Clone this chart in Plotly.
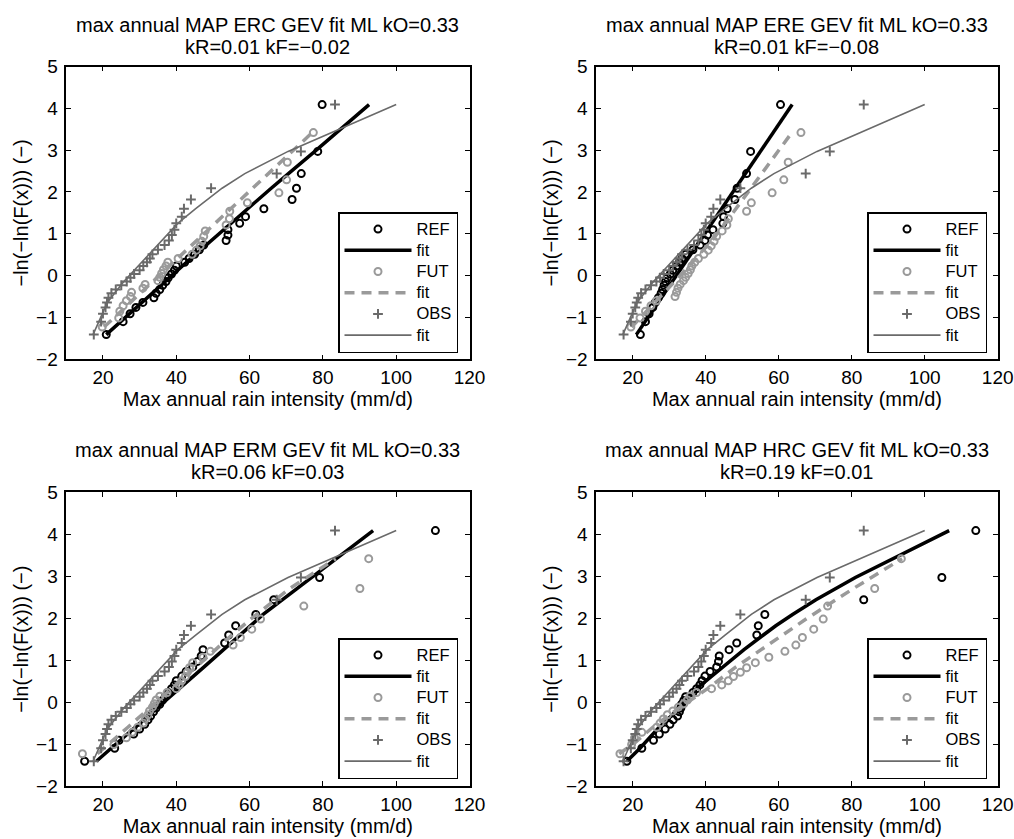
import plotly.graph_objects as go

# ---- plotting positions (reduced Gumbel variate) ----
HAZEN_Y = [-1.41, -1.10, -0.91, -0.76, -0.64, -0.53, -0.42, -0.33, -0.23, -0.14,
           -0.05, 0.04, 0.13, 0.23, 0.32, 0.41, 0.51, 0.62, 0.73, 0.84,
           0.97, 1.10, 1.25, 1.41, 1.60, 1.82, 2.09, 2.44, 2.97, 4.09]
WEIBULL_Y = [-1.23, -1.01, -0.85, -0.72, -0.60, -0.50, -0.40, -0.30, -0.21, -0.12,
             -0.04, 0.05, 0.14, 0.23, 0.32, 0.41, 0.51, 0.61, 0.71, 0.82,
             0.94, 1.07, 1.21, 1.36, 1.54, 1.74, 1.98, 2.29, 2.71, 3.42]
FIT_Y_HAZEN = [-1.41, -1.10, -0.64, -0.14, 0.32, 0.84, 1.25, 1.60, 1.82, 2.09, 2.44, 2.97, 4.09]
FIT_Y_WEIBULL = [-1.23, -1.01, -0.60, -0.12, 0.32, 0.82, 1.21, 1.54, 1.74, 1.98, 2.29, 2.71, 3.42]

# ---- observations (same in all panels) ----
obs_x = [17.5, 19.5, 20.0, 20.7, 21.1, 21.5, 22.3, 23.5, 25.0, 26.5,
         27.5, 28.5, 30.0, 31.0, 32.0, 32.8, 33.5, 35.0, 36.8, 38.0,
         38.8, 39.5, 40.0, 41.5, 42.1, 44.0, 49.5, 67.4, 74.0, 83.3]
obs_fit_x = [17.3, 18.9, 21.2, 25.7, 30.5, 35.9, 40.4, 45.3, 48.4, 52.5, 58.7, 70.5, 100.0]

# ---- ERC ----
erc_ref_x = [20.9, 25.5, 27.4, 29.0, 30.9, 33.9, 34.5, 35.5, 36.3, 37.2,
             37.8, 38.7, 39.5, 40.0, 42.3, 43.5, 45.0, 46.3, 47.5, 53.6,
             54.1, 54.1, 57.3, 58.9, 63.9, 71.6, 72.8, 74.1, 78.6, 79.8]
erc_fut_x = [19.8, 24.3, 24.6, 25.5, 26.4, 27.5, 27.8, 30.9, 31.5, 35.0,
             35.5, 36.0, 36.5, 37.2, 37.7, 40.5, 44.3, 45.5, 46.5, 47.0,
             47.5, 47.9, 53.6, 54.5, 54.6, 59.4, 68.0, 70.1, 70.3, 77.4]
erc_ref_fit_x = [20.9, 24.9, 30.9, 37.0, 42.8, 49.5, 54.8, 59.4, 62.3, 65.9, 70.6, 77.8, 92.6]
erc_fut_fit_x = [20.3, 23.0, 28.0, 33.9, 39.2, 45.3, 50.1, 54.1, 56.5, 59.5, 63.2, 68.4, 77.1]

# ---- ERE ----
ere_ref_x = [22.1, 23.5, 24.5, 25.5, 26.2, 27.0, 27.8, 28.2, 28.6, 29.0,
             29.5, 30.3, 31.0, 32.0, 32.8, 33.5, 34.5, 36.5, 38.5, 39.8,
             40.5, 42.0, 44.7, 44.9, 45.9, 48.0, 48.6, 51.2, 52.3, 60.5]
ere_fut_x = [19.5, 22.0, 23.5, 25.0, 26.5, 31.6, 32.0, 32.4, 33.0, 33.9,
             34.5, 35.2, 35.8, 36.2, 37.0, 38.0, 39.5, 40.7, 41.5, 42.3,
             43.0, 44.5, 45.8, 46.2, 51.2, 52.5, 58.2, 61.4, 62.6, 66.1]
ere_ref_fit_x = [21.0, 23.4, 27.0, 30.9, 34.4, 38.5, 41.6, 44.4, 46.1, 48.2, 50.9, 55.0, 63.7]
ere_fut_fit_x = [19.7, 22.0, 26.5, 31.7, 36.4, 41.5, 45.0, 47.8, 49.5, 51.6, 54.3, 57.8, 63.6]

# ---- ERM ----
erm_ref_x = [15.0, 23.2, 24.4, 28.4, 30.0, 31.4, 32.3, 33.0, 33.8, 34.5,
             35.5, 36.2, 37.0, 37.8, 38.7, 39.5, 40.0, 41.5, 42.7, 44.5,
             45.8, 46.8, 47.3, 53.2, 54.3, 56.2, 61.7, 66.6, 79.1, 110.7]
erm_fut_x = [14.4, 23.0, 26.4, 28.0, 29.5, 31.0, 31.6, 32.3, 32.7, 33.5,
             34.0, 34.5, 35.5, 37.5, 40.0, 40.8, 41.5, 42.5, 43.0, 43.6,
             44.5, 47.3, 49.3, 55.5, 57.5, 60.6, 63.0, 74.8, 90.1, 92.5]
erm_ref_fit_x = [18.2, 22.2, 28.2, 34.8, 40.8, 47.6, 52.9, 57.5, 60.0, 63.7, 68.9, 76.9, 93.7]
erm_fut_fit_x = [18.5, 21.5, 26.8, 33.0, 38.8, 45.2, 50.2, 54.4, 57.0, 60.3, 64.8, 71.0, 83.5]

# ---- HRC ----
hrc_ref_x = [18.4, 22.5, 25.7, 27.3, 28.9, 30.2, 31.1, 32.3, 32.8, 33.2,
             33.4, 34.0, 34.5, 36.5, 37.5, 38.4, 39.0, 39.8, 41.2, 43.0,
             43.5, 43.7, 46.4, 48.5, 54.0, 54.4, 56.2, 83.3, 104.7, 114.0]
hrc_fut_x = [16.5, 19.7, 20.5, 22.5, 26.6, 27.5, 28.4, 29.5, 31.0, 32.5,
             34.0, 35.0, 35.7, 37.5, 41.6, 44.4, 46.2, 47.6, 49.5, 51.2,
             53.6, 57.3, 61.7, 64.7, 66.5, 69.6, 72.2, 73.4, 86.3, 93.6]
hrc_ref_fit_x = [18.4, 22.0, 26.8, 32.8, 37.5, 44.8, 50.5, 55.8, 59.2, 63.8, 70.2, 81.0, 106.7]
hrc_fut_fit_x = [16.3, 20.0, 25.5, 33.0, 40.5, 48.0, 54.5, 60.0, 63.5, 67.5, 73.0, 80.5, 93.8]

titles = [("max annual MAP ERC GEV fit ML kO=0.33", "kR=0.01 kF=\u22120.02"),
          ("max annual MAP ERE GEV fit ML kO=0.33", "kR=0.01 kF=\u22120.08"),
          ("max annual MAP ERM GEV fit ML kO=0.33", "kR=0.06 kF=0.03"),
          ("max annual MAP HRC GEV fit ML kO=0.33", "kR=0.19 kF=0.01")]
panels = [(erc_ref_x, erc_ref_fit_x, erc_fut_x, erc_fut_fit_x),
          (ere_ref_x, ere_ref_fit_x, ere_fut_x, ere_fut_fit_x),
          (erm_ref_x, erm_ref_fit_x, erm_fut_x, erm_fut_fit_x),
          (hrc_ref_x, hrc_ref_fit_x, hrc_fut_x, hrc_fut_fit_x)]

W, H = 1014, 839
xdom = [(66.3 / W, 469.5 / W), (596.2 / W, 997.7 / W)]
ydom = [(1 - 359.3 / H, 1 - 66.5 / H), (1 - 786.0 / H, 1 - 492.4 / H)]
FONT = "Liberation Sans, Arial, sans-serif"
BLACK, LGREY, DGREY = "#000000", "#9a9a9a", "#6a6a6a"


def lab(s):
    return "<span style='font-size:16.5px'>" + s + "</span>"


fig = go.Figure()
annotations = []
for k, (ref_x, ref_fit, fut_x, fut_fit) in enumerate(panels):
    r, c = divmod(k, 2)
    sfx = "" if k == 0 else str(k + 1)
    xa, ya = "x" + sfx, "y" + sfx
    lg = "legend" + sfx
    common = dict(xaxis=xa, yaxis=ya, legend=lg)
    fig.add_trace(go.Scatter(x=ref_x, y=HAZEN_Y, mode="markers", name=lab("REF"),
                             marker=dict(symbol="circle-open", size=7, color=BLACK,
                                         line=dict(width=2, color=BLACK)), **common))
    fig.add_trace(go.Scatter(x=ref_fit, y=FIT_Y_HAZEN, mode="lines", name=lab("fit"),
                             line=dict(color=BLACK, width=3.5), **common))
    fig.add_trace(go.Scatter(x=fut_x, y=WEIBULL_Y, mode="markers", name=lab("FUT"),
                             marker=dict(symbol="circle-open", size=7, color=LGREY,
                                         line=dict(width=2, color=LGREY)), **common))
    fig.add_trace(go.Scatter(x=fut_fit, y=FIT_Y_WEIBULL, mode="lines", name=lab("fit"),
                             line=dict(color=LGREY, width=3.5, dash="10px,7px"), **common))
    fig.add_trace(go.Scatter(x=obs_x, y=HAZEN_Y, mode="markers", name=lab("OBS"),
                             marker=dict(symbol="cross-thin-open", size=7, color=DGREY,
                                         line=dict(width=2, color=DGREY)), **common))
    fig.add_trace(go.Scatter(x=obs_fit_x, y=FIT_Y_HAZEN, mode="lines", name=lab("fit"),
                             line=dict(color=DGREY, width=1.6), **common))

    axis_common = dict(showline=True, linecolor=BLACK, linewidth=1.5, mirror="ticks",
                       ticks="inside", ticklen=5, tickcolor=BLACK, tickwidth=1,
                       showgrid=False, zeroline=False, automargin=False,
                       tickfont=dict(family=FONT, size=19, color=BLACK))
    fig.layout["xaxis" + sfx] = dict(domain=xdom[c], anchor=ya, range=[10, 120],
                                     tickvals=[20, 40, 60, 80, 100, 120],
                                     ticklabelstandoff=0,
                                     title=dict(text="Max annual rain intensity (mm/d)",
                                                font=dict(family=FONT, size=20, color=BLACK),
                                                standoff=4),
                                     **axis_common)
    fig.layout["yaxis" + sfx] = dict(domain=ydom[r], anchor=xa, range=[-2, 5], dtick=1,
                                     ticklabelstandoff=3,
                                     title=dict(text="\u2212ln(\u2212ln(F(x))) (\u2212)",
                                                font=dict(family=FONT, size=20, color=BLACK),
                                                standoff=2),
                                     **axis_common)
    xc = (xdom[c][0] + xdom[c][1]) / 2
    top = ydom[r][1]
    annotations.append(dict(text=titles[k][0], x=xc, y=top, xref="paper", yref="paper",
                            xanchor="center", yanchor="middle", yshift=42, showarrow=False,
                            font=dict(family=FONT, size=20, color=BLACK)))
    annotations.append(dict(text=titles[k][1], x=xc, y=top, xref="paper", yref="paper",
                            xanchor="center", yanchor="middle", yshift=20, showarrow=False,
                            font=dict(family=FONT, size=20, color=BLACK)))
    right_px = 458 if c == 0 else 987
    bottom_px = 353 if r == 0 else 779
    fig.layout[lg] = dict(x=right_px / W, y=1 - bottom_px / H, xanchor="right", yanchor="bottom",
                          bgcolor="white", bordercolor=BLACK, borderwidth=1.5,
                          font=dict(family=FONT, size=14, color=BLACK),
                          itemwidth=67, tracegroupgap=0)

fig.update_layout(width=W, height=H, autosize=False, margin=dict(l=0, r=0, t=0, b=0),
                  paper_bgcolor="white", plot_bgcolor="white", showlegend=True,
                  annotations=annotations, font=dict(family=FONT, color=BLACK))
fig.write_html("out.html")
